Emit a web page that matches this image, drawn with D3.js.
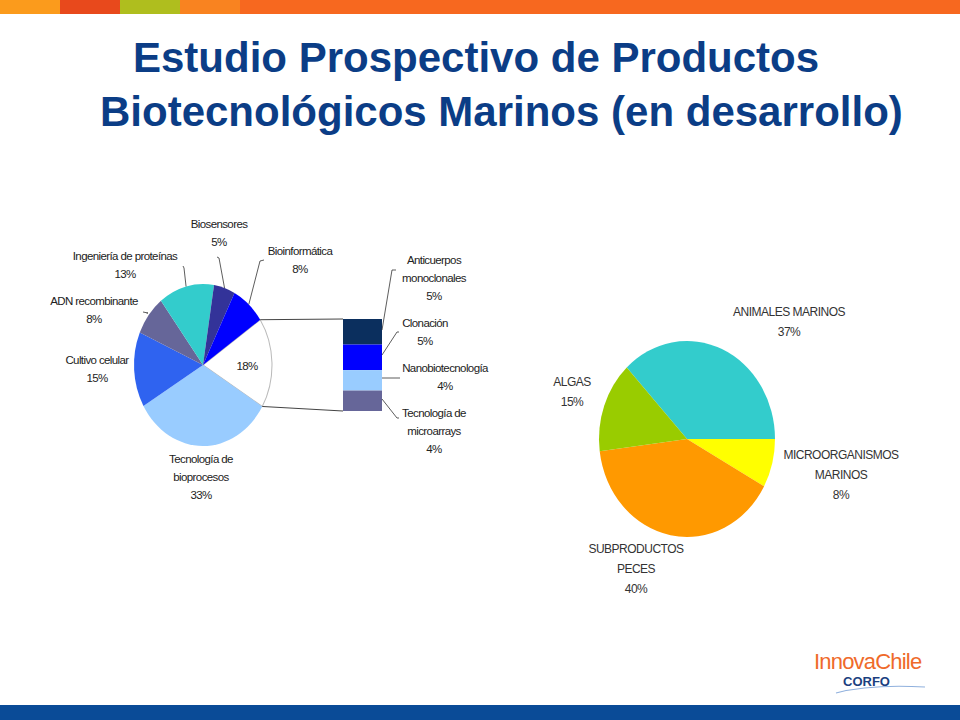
<!doctype html>
<html>
<head>
<meta charset="utf-8">
<script src="https://d3js.org/d3.v7.min.js"></script>
<style>
  body { margin: 0; background: #fff; }
  text { font-family: "Liberation Sans", Arial, sans-serif; fill: #222; }
</style>
</head>
<body>
<svg id="chart" width="960" height="720"></svg>
<script>
  // left pie (biotechnology areas)
  const bioNames = ["Otros", "Tecnología de bioprocesos", "Cultivo celular", "ADN recombinante",
    "Ingeniería de proteínas", "Biosensores", "Bioinformática"]
  const bioValues = [18, 33, 15, 8, 13, 5, 8]
  const bioColors = ["#ffffff", "#99ccff", "#2f63f0", "#666699", "#33cccc", "#333399", "#0000ff"]

  // bar of pie (breakdown of the 18%)
  const otherNames = ["Anticuerpos monoclonales", "Clonación", "Nanobiotecnología", "Tecnología de microarrays"]
  const otherValues = [5, 5, 4, 4]
  const otherColors = ["#0b2f5e", "#0000ff", "#99ccff", "#666699"]

  // right pie (sources)
  const srcNames = ["ANIMALES MARINOS", "MICROORGANISMOS MARINOS", "SUBPRODUCTOS PECES", "ALGAS"]
  const srcValues = [37, 8, 40, 15]
  const srcColors = ["#33cccc", "#ffff00", "#ff9900", "#99cc00"]

  const svg = d3.select("#chart")

  // top colour strip
  const strip = [["#fb9b1c", 0, 60], ["#e8491c", 60, 120], ["#afbe1e", 120, 180], ["#f98320", 180, 240], ["#f7681f", 240, 960]]
  strip.forEach(s => svg.append("rect").attr("x", s[1]).attr("y", 0).attr("width", s[2] - s[1]).attr("height", 14).attr("fill", s[0]))
  svg.append("rect").attr("x", 0).attr("y", 705).attr("width", 960).attr("height", 15).attr("fill", "#0a4b97")

  // title
  const title = svg.append("g").style("font-weight", "bold").style("font-size", "42px")
  title.append("text").attr("x", 133).attr("y", 72).style("fill", "#0b3d86").text("Estudio Prospectivo de Productos")
  title.append("text").attr("x", 100).attr("y", 126).style("fill", "#0b3d86").text("Biotecnológicos Marinos (en desarrollo)")

  // left pie, slightly stretched vertically
  const rad = Math.PI / 180
  const pieL = d3.pie().sort(null).startAngle(56 * rad).endAngle(416 * rad)
  const arcsL = pieL(bioValues)
  const arc = d3.arc().innerRadius(0).outerRadius(1)
  const gL = svg.append("g").attr("transform", "translate(203,365) scale(69,81)")
  gL.selectAll("path").data(arcsL).join("path")
    .attr("d", arc).attr("fill", (d, i) => bioColors[i])
    .attr("stroke", (d, i) => i === 0 ? "#bbb" : "none").attr("stroke-width", 0.015)

  // bar of pie
  const barY = d3.scaleLinear().domain([0, d3.sum(otherValues)]).range([319, 411])
  const cum = otherValues.map((v, i) => d3.sum(otherValues.slice(0, i)))
  svg.selectAll("rect.bar").data(otherValues).join("rect").attr("class", "bar")
    .attr("x", 343).attr("width", 39)
    .attr("y", (d, i) => barY(cum[i])).attr("height", d => barY(d) - barY(0))
    .attr("fill", (d, i) => otherColors[i])

  // connectors from white slice to bar
  const edge = a => [203 + 69 * Math.sin(a), 365 - 81 * Math.cos(a)]
  const p1 = edge(arcsL[0].startAngle), p2 = edge(arcsL[0].endAngle)
  svg.append("line").attr("x1", p1[0]).attr("y1", p1[1]).attr("x2", 343).attr("y2", barY(0)).attr("stroke", "#444")
  svg.append("line").attr("x1", p2[0]).attr("y1", p2[1]).attr("x2", 343).attr("y2", barY(18)).attr("stroke", "#444")

  function label(x, y, lines, anchor) {
    const t = svg.append("text").attr("x", x).attr("y", y).attr("text-anchor", anchor || "middle")
      .style("font-size", "11.5px").style("letter-spacing", "-0.6px").style("fill", "#222")
    lines.forEach((l, i) => t.append("tspan").attr("x", x).attr("dy", i ? 18 : 0).text(l))
  }
  function leader(pts) {
    svg.append("polyline").attr("points", pts.map(p => p.join(",")).join(" "))
      .attr("fill", "none").attr("stroke", "#333").attr("stroke-width", 0.8)
  }
  const mid = d => (d.startAngle + d.endAngle) / 2

  // left pie labels
  label(247, 370, [bioValues[0] + "%"])
  label(201, 463, ["Tecnología de", "bioprocesos", bioValues[1] + "%"])
  label(97, 364, ["Cultivo celular", bioValues[2] + "%"])
  label(94, 305, ["ADN recombinante", bioValues[3] + "%"])
  label(125, 260, ["Ingeniería de proteínas", bioValues[4] + "%"])
  label(219, 228, ["Biosensores", bioValues[5] + "%"])
  label(300, 255, ["Bioinformática", bioValues[6] + "%"])
  leader([edge(mid(arcsL[3])).map(v => v - 2), [148, 313], [143, 312]])
  leader([edge(mid(arcsL[4])), [184, 268], [183, 266]])
  leader([edge(mid(arcsL[5])), [219, 258], [217, 257]])
  leader([edge(mid(arcsL[6])), [260, 261], [264, 260]])

  // bar labels
  label(434, 264, ["Anticuerpos", "monoclonales", otherValues[0] + "%"])
  label(425, 327, ["Clonación", otherValues[1] + "%"])
  label(445, 372, ["Nanobiotecnología", otherValues[2] + "%"])
  label(434, 417, ["Tecnología de", "microarrays", otherValues[3] + "%"])
  leader([[382, 330], [392, 270], [396, 270]])
  leader([[382, 355], [397, 332], [399, 332]])
  leader([[382, 378], [400, 378]])
  leader([[382, 399], [397, 418], [399, 418]])

  // right pie
  const pieR = d3.pie().sort(null).startAngle(-43.2 * rad).endAngle(316.8 * rad)
  const gR = svg.append("g").attr("transform", "translate(687,439) scale(88,98)")
  gR.selectAll("path").data(pieR(srcValues)).join("path")
    .attr("d", arc).attr("fill", (d, i) => srcColors[i])

  const rlab = (x, y, lines, anchor) => {
    const t = svg.append("text").attr("x", x).attr("y", y).attr("text-anchor", anchor || "middle")
      .style("font-size", "12px").style("fill", "#333").style("letter-spacing", "-0.5px")
    lines.forEach((l, i) => t.append("tspan").attr("x", x).attr("dy", i ? 20 : 0).text(l))
  }
  rlab(789, 316, [srcNames[0], srcValues[0] + "%"])
  rlab(841, 459, ["MICROORGANISMOS", "MARINOS", srcValues[1] + "%"])
  rlab(636, 553, ["SUBPRODUCTOS", "PECES", srcValues[2] + "%"])
  rlab(572, 386, [srcNames[3], srcValues[3] + "%"])

  // logo
  svg.append("text").attr("x", 814).attr("y", 669).style("font-size", "22px").style("letter-spacing", "-0.8px")
    .style("fill", "#ef6a2a").text("InnovaChile")
  svg.append("text").attr("x", 843).attr("y", 686).style("font-weight", "bold").style("font-size", "13px")
    .style("fill", "#1b3f7f").text("CORFO")
  svg.append("path").attr("d", "M836,693 Q870,684 925,687").attr("fill", "none").attr("stroke", "#8fb0dd").attr("stroke-width", 1.2)
</script>
</body>
</html>
